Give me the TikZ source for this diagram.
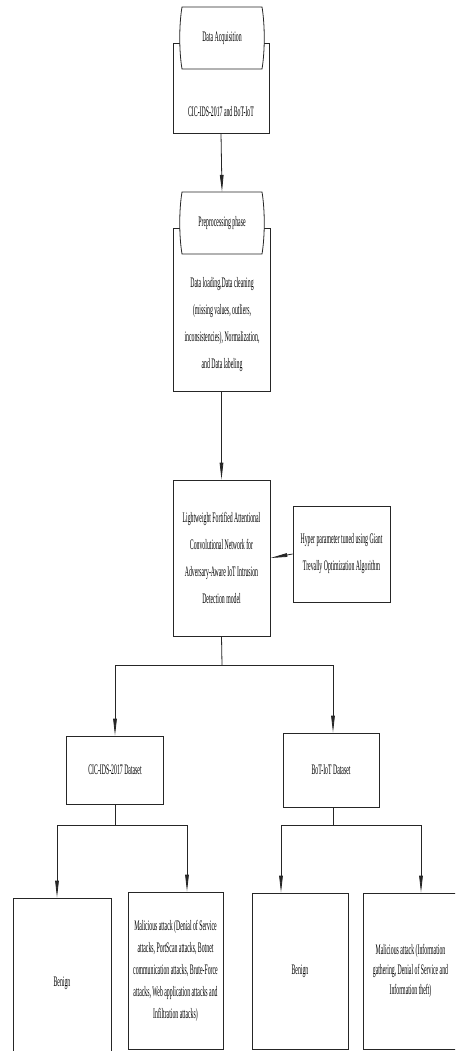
\documentclass[tikz,border=0pt]{standalone}
\usepackage{fontspec}
\setmainfont[FakeStretch=0.4]{Liberation Serif}
\usetikzlibrary{arrows.meta,calc}
\begin{document}
\begin{tikzpicture}[x=1pt,y=-1pt,
  box/.style={draw=black!85,line width=0.8pt,fill=white,inner sep=0pt},
  lbl/.style={align=center,inner sep=0pt},
  wv/.style={draw=black!85,line width=0.8pt,fill=white},
  ln/.style={draw=black!85,line width=0.8pt},
  arr/.style={ln,-{Triangle[length=17pt,width=3.6pt]}},
  font=\fontsize{14.5}{27}\selectfont]
\clip (0,0) rectangle (455,1051);
\fill[white] (0,0) rectangle (455,1051);
% Data acquisition
\node[box,minimum width=96pt,minimum height=90pt] (da) at (221,88) {};
\node[lbl] (dat) at (221,112) {CIC-IDS-2017 and BoT-IoT};
\draw[wv] (182,7) -- (262,7) .. controls (265,25) and (265,51) .. (262,69) -- (182,69) .. controls (179,51) and (179,25) .. cycle;
\node[lbl,minimum width=80pt,minimum height=62pt] (daw) at (222,38) {Data Acquisition};
% Preprocessing
\node[box,minimum width=97pt,minimum height=163pt] (pp) at (221.5,309.5) {};
\node[lbl] (ppt) at (222,325) {Data loading,Data cleaning\\(missing values, outliers,\\inconsistencies), Normalization,\\and Data labeling};
\draw[wv] (182,192) -- (262,192) .. controls (265,210) and (265,236) .. (262,254) -- (182,254) .. controls (179,236) and (179,210) .. cycle;
\node[lbl,minimum width=80pt,minimum height=62pt] (ppw) at (222,223) {Preprocessing phase};
% LFAC model
\node[box,minimum width=97pt,minimum height=156pt,align=center] (lf) at (221.5,558)
  {Lightweight Fortified Attentional\\Convolutional Network for\\Adversary-Aware IoT Intrusion\\Detection model};
\node[box,minimum width=97pt,minimum height=96pt,align=center] (hp) at (341.5,554)
  {Hyper parameter tuned using Giant\\Trevally Optimization Algorithm};
% datasets
\node[box,minimum width=97pt,minimum height=68pt] (cic) at (115,770) {CIC-IDS-2017 Dataset};
\node[box,minimum width=96pt,minimum height=74pt] (bot) at (331,770) {BoT-IoT Dataset};
% leaves
\node[box,minimum width=98pt,minimum height=170pt] (cb) at (62,983) {Benign};
\node[box,minimum width=95pt,minimum height=157pt,align=center,font=\fontsize{14.5}{22}\selectfont] (cm) at (175.5,970.5)
  {Malicious attack (Denial of Service\\attacks, PortScan attacks, Botnet\\communication attacks, Brute-Force\\attacks, Web application attacks and\\Infiltration attacks)};
\node[box,minimum width=96pt,minimum height=156pt] (bb) at (300,971) {Benign};
\node[box,minimum width=95pt,minimum height=156pt,align=center,font=\fontsize{14.5}{20}\selectfont] (bm) at (410.5,971)
  {Malicious attack (Information\\gathering, Denial of Service and\\Information theft)};
% connectors
\coordinate (j1) at (222,665);
\coordinate (j2) at (115,825);
\coordinate (j3) at (333,825);
\draw[arr] (da.south) -- (ppw.north);
\draw[arr] (pp.south) -- (lf.north);
\draw[arr] (hp.west) -- (lf.east);
\draw[ln] (lf.south) -- (j1);
\draw[arr] (j1) -| (cic.north);
\draw[arr] (j1) -| ([xshift=2pt]bot.north);
\draw[ln] (cic.south) -- (j2);
\draw[arr] (j2) -| ([xshift=-5pt]cb.north);
\draw[arr] (j2) -| ([xshift=11.5pt]cm.north);
\draw[ln] ([xshift=2pt]bot.south) -- (j3);
\draw[arr] (j3) -| ([xshift=-19pt]bb.north);
\draw[arr] (j3) -| ([xshift=10.5pt]bm.north);
\end{tikzpicture}
\end{document}
